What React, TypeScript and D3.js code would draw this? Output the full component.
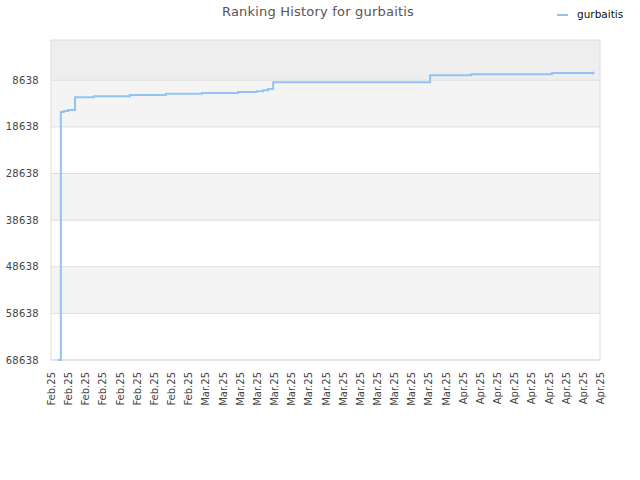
import * as d3 from 'd3';

// Ranking history (day offset from first tick, rank)
const days = [0.8, 1.15, 1.5, 2.0, 2.8, 5.0, 9.2, 13.4, 17.6, 21.8, 24.0, 24.7, 25.3, 25.9, 44.2, 49.0, 58.4, 63.2];
const ranks = [68638, 15430, 15220, 15000, 12280, 12070, 11810, 11550, 11380, 11170, 10990, 10780, 10500, 9070, 7570, 7350, 7100, 7100];

const yTicks = [8638, 18638, 28638, 38638, 48638, 58638, 68638];
const xLabels = [
  'Feb.25', 'Feb.25', 'Feb.25', 'Feb.25', 'Feb.25', 'Feb.25', 'Feb.25', 'Feb.25', 'Feb.25',
  'Mar.25', 'Mar.25', 'Mar.25', 'Mar.25', 'Mar.25', 'Mar.25', 'Mar.25', 'Mar.25',
  'Mar.25', 'Mar.25', 'Mar.25', 'Mar.25', 'Mar.25', 'Mar.25', 'Mar.25',
  'Apr.25', 'Apr.25', 'Apr.25', 'Apr.25', 'Apr.25', 'Apr.25', 'Apr.25', 'Apr.25', 'Apr.25',
];

const seriesName = 'gurbaitis';
const title = 'Ranking History for gurbaitis';

const WIDTH = 640;
const HEIGHT = 480;
const LINE_COLOR = '#92c3f3';
const FONT = 'DejaVu Sans, sans-serif';

export default function App() {
  const left = 51;
  const right = 600;
  const top = 40;
  const bottom = 360;

  const x = d3.scaleLinear().domain([0, (xLabels.length - 1) * 2]).range([left, right]);
  const y = d3.scaleLinear().domain([0, 68638]).range([top, bottom]);

  const points = days.map((d, i) => [d, ranks[i]] as [number, number]);
  const line = d3
    .line<[number, number]>()
    .x((d) => x(d[0]))
    .y((d) => y(d[1]))
    .curve(d3.curveStepAfter);

  // bands between gridlines, starting from the top edge
  const bandEdges = [0, ...yTicks];
  const bands = bandEdges.slice(0, -1).map((v, i) => ({ from: v, to: bandEdges[i + 1], i }));
  const bandFill = (i: number) => (i === 0 ? '#eeeeee' : i % 2 === 1 ? '#f4f4f4' : '#ffffff');

  const last = points[points.length - 1];

  return (
    <div style={{ position: 'absolute', left: 0, top: 0 }}>
      <svg width={WIDTH} height={HEIGHT} style={{ display: 'block', fontFamily: FONT }}>
        <rect width={WIDTH} height={HEIGHT} fill="#fff" />

        <text x={318} y={16} textAnchor="middle" fontSize={13} letterSpacing={0.2} fill="#555">
          {title}
        </text>

        {/* legend */}
        <line x1={557} x2={568} y1={15} y2={15} stroke={LINE_COLOR} strokeWidth={2} />
        <text x={577} y={18} fontSize={10.5} fill="#111">
          {seriesName}
        </text>

        {bands.map((b) => (
          <rect
            key={b.i}
            x={left}
            y={y(b.from)}
            width={right - left}
            height={y(b.to) - y(b.from)}
            fill={bandFill(b.i)}
          />
        ))}

        {yTicks.map((t) => (
          <g key={t}>
            <line x1={left} x2={right} y1={y(t)} y2={y(t)} stroke="#dddddd" strokeWidth={1} />
            <text
              x={39}
              y={y(t)}
              textAnchor="end"
              dominantBaseline="central"
              fontSize={10}
              letterSpacing={0.3}
              fill="#444"
            >
              {t}
            </text>
          </g>
        ))}

        <rect x={left} y={top} width={right - left} height={bottom - top} fill="none" stroke="#dddddd" />

        {xLabels.map((lab, i) => (
          <text
            key={i}
            transform={`translate(${x(i * 2) + 0.5},${372}) rotate(-90)`}
            textAnchor="end"
            dominantBaseline="central"
            fontSize={10}
            fill="#444"
          >
            {lab}
          </text>
        ))}

        <path d={line(points) ?? ''} fill="none" stroke={LINE_COLOR} strokeWidth={2} />
        <circle cx={x(last[0])} cy={y(last[1])} r={1.5} fill={LINE_COLOR} />
      </svg>
    </div>
  );
}
